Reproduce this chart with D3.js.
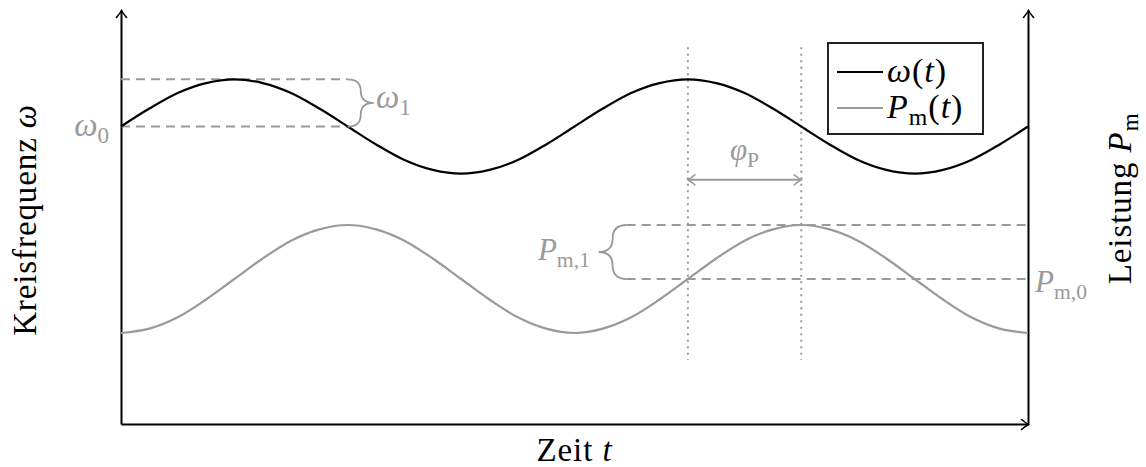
<!DOCTYPE html>
<html>
<head>
<meta charset="utf-8">
<script src="https://cdn.jsdelivr.net/npm/d3@7"></script>
<style>
  html, body { margin: 0; padding: 0; background: #fff; }
  svg { display: block; font-family: "Liberation Serif", "DejaVu Serif", serif; }
</style>
</head>
<body>
<div id="chart"></div>
<script>
const width = 1146, height = 467;

// time in periods (sixteenth-period samples)
const timeVals  = [0, 0.0625, 0.125, 0.1875, 0.25, 0.3125, 0.375, 0.4375, 0.5, 0.5625, 0.625, 0.6875, 0.75, 0.8125, 0.875, 0.9375,
                   1, 1.0625, 1.125, 1.1875, 1.25, 1.3125, 1.375, 1.4375, 1.5, 1.5625, 1.625, 1.6875, 1.75, 1.8125, 1.875, 1.9375, 2];
// omega(t): omega0 = 1.0, omega1 = 0.1
const omegaVals = [1.000, 1.038, 1.071, 1.092, 1.100, 1.092, 1.071, 1.038, 1.000, 0.962, 0.929, 0.908, 0.900, 0.908, 0.929, 0.962,
                   1.000, 1.038, 1.071, 1.092, 1.100, 1.092, 1.071, 1.038, 1.000, 0.962, 0.929, 0.908, 0.900, 0.908, 0.929, 0.962, 1.000];
// Pm(t): Pm0 = 0.5, Pm1 = 0.1, lags omega by a quarter period
const powerVals = [0.400, 0.408, 0.429, 0.462, 0.500, 0.538, 0.571, 0.592, 0.600, 0.592, 0.571, 0.538, 0.500, 0.462, 0.429, 0.408,
                   0.400, 0.408, 0.429, 0.462, 0.500, 0.538, 0.571, 0.592, 0.600, 0.592, 0.571, 0.538, 0.500, 0.462, 0.429, 0.408, 0.400];

const omega0 = 1.0, omega1 = 0.1;
const pm0 = 0.5, pm1 = 0.1;
const phaseMarks = [1.25, 1.5];   // omega peak and Pm peak

const gray = "#9a9a9a";

const svg = d3.select("#chart")
    .append("svg")
    .attr("width", width)
    .attr("height", height);

const x = d3.scaleLinear().domain([0, 2]).range([121, 1028]);
const yOmega = d3.scaleLinear().domain([omega0, omega0 + omega1]).range([126.5, 79.3]);
const yPower = d3.scaleLinear().domain([pm0, pm0 + pm1]).range([279, 225]);
const axisY = d3.scaleLinear().domain([0, 1]).range([424, 10]);

// arrow heads (tikz "->" style)
const defs = svg.append("defs");
function arrowMarker(id, color) {
    defs.append("marker")
        .attr("id", id)
        .attr("viewBox", "-10 -7 12 14")
        .attr("markerUnits", "userSpaceOnUse")
        .attr("markerWidth", 12)
        .attr("markerHeight", 14)
        .attr("refX", 0)
        .attr("refY", 0)
        .attr("orient", "auto-start-reverse")
        .append("path")
        .attr("d", "M-7,-5 Q-2,-1 0,0 Q-2,1 -7,5")
        .attr("fill", "none")
        .attr("stroke", color)
        .attr("stroke-width", 1.6)
        .attr("stroke-linecap", "round");
}
arrowMarker("arrowBlack", "#000");
arrowMarker("arrowGray", gray);

// axes (no ticks, only the domain line with an arrow)
svg.append("g")
    .attr("transform", `translate(${x(0)},0)`)
    .call(d3.axisLeft(axisY).tickValues([]).tickSizeOuter(0));
svg.append("g")
    .attr("transform", `translate(${x(2)},0)`)
    .call(d3.axisRight(axisY).tickValues([]).tickSizeOuter(0));
svg.append("g")
    .attr("transform", `translate(0,${axisY(0)})`)
    .call(d3.axisBottom(x).tickValues([]).tickSizeOuter(0));
svg.selectAll(".domain")
    .attr("stroke", "#000")
    .attr("stroke-width", 2)
    .attr("marker-end", "url(#arrowBlack)");

// helper lines
const dashed = (x1, x2, y) => svg.append("line")
    .attr("x1", x1).attr("x2", x2).attr("y1", y).attr("y2", y)
    .attr("stroke", gray).attr("stroke-width", 2)
    .attr("stroke-dasharray", "9,6");

dashed(x(0), x(0.5), yOmega(omega0));
dashed(x(0), x(0.5), yOmega(omega0 + omega1));
dashed(x(1.115), x(2), yPower(pm0));
dashed(x(1.115), x(2), yPower(pm0 + pm1));

svg.selectAll(".phase-line")
    .data(phaseMarks)
    .enter()
    .append("line")
    .attr("class", "phase-line")
    .attr("x1", d => x(d)).attr("x2", d => x(d))
    .attr("y1", yOmega(1.168)).attr("y2", yPower(0.35))
    .attr("stroke", gray).attr("stroke-width", 2)
    .attr("stroke-dasharray", "2,4.5");

// curves
const omegaLine = d3.line()
    .x((d, i) => x(timeVals[i]))
    .y(d => yOmega(d))
    .curve(d3.curveMonotoneX);
const powerLine = d3.line()
    .x((d, i) => x(timeVals[i]))
    .y(d => yPower(d))
    .curve(d3.curveMonotoneX);

svg.append("path")
    .attr("d", powerLine(powerVals))
    .attr("fill", "none")
    .attr("stroke", gray)
    .attr("stroke-width", 2.2);
svg.append("path")
    .attr("d", omegaLine(omegaVals))
    .attr("fill", "none")
    .attr("stroke", "#000")
    .attr("stroke-width", 2.2);

// braces
function brace(x0, y1, y2, a) {
    const ym = (y1 + y2) / 2;
    const r = Math.min(Math.abs(a) / 2, (ym - y1) / 2);
    const xm = x0 + a / 2;
    return `M${x0},${y1} Q${xm},${y1} ${xm},${y1 + r} L${xm},${ym - r} Q${xm},${ym} ${x0 + a},${ym}` +
           ` Q${xm},${ym} ${xm},${ym + r} L${xm},${y2 - r} Q${xm},${y2} ${x0},${y2}`;
}
svg.append("path")
    .attr("d", brace(x(0.5), yOmega(omega0 + omega1), yOmega(omega0), 26))
    .attr("fill", "none").attr("stroke", gray).attr("stroke-width", 1.8);
svg.append("path")
    .attr("d", brace(x(1.115), yPower(pm0 + pm1), yPower(pm0), -28))
    .attr("fill", "none").attr("stroke", gray).attr("stroke-width", 1.8);

// phase arrow
const phiY = yOmega(0.887);
svg.append("line")
    .attr("x1", x(phaseMarks[0])).attr("x2", x(phaseMarks[1]))
    .attr("y1", phiY).attr("y2", phiY)
    .attr("stroke", gray).attr("stroke-width", 2)
    .attr("marker-start", "url(#arrowGray)")
    .attr("marker-end", "url(#arrowGray)");

// math-ish label helper: parts = [[text, italic, sub]]
function mathText(sel, parts, size) {
    parts.forEach(([t, it, sub], i) => {
        const prevSub = i > 0 && parts[i - 1][2];
        const ts = sel.append("tspan")
            .text(t)
            .attr("font-style", it ? "italic" : "normal")
            .attr("font-size", sub ? size * 0.7 : size);
        if (sub && !prevSub) ts.attr("dy", size * 0.22);
        if (!sub && prevSub) ts.attr("dy", -size * 0.22);
    });
    return sel;
}

const g = svg.append("g").attr("fill", gray);
mathText(g.append("text").attr("x", 109).attr("y", yOmega(omega0) + 9).attr("text-anchor", "end"),
    [["ω", true, false], ["0", false, true]], 33);
mathText(g.append("text").attr("x", 376).attr("y", yOmega(omega0 + omega1 / 2) + 5),
    [["ω", true, false], ["1", false, true]], 33);
mathText(g.append("text").attr("x", 590).attr("y", yPower(pm0 + pm1 / 2) + 8).attr("text-anchor", "end"),
    [["P", true, false], ["m,1", false, true]], 31);
mathText(g.append("text").attr("x", 1035).attr("y", yPower(pm0) + 13),
    [["P", true, false], ["m,0", false, true]], 31);
mathText(g.append("text").attr("x", (x(phaseMarks[0]) + x(phaseMarks[1])) / 2).attr("y", phiY - 20).attr("text-anchor", "middle"),
    [["φ", true, false], ["P", false, true]], 31);

// axis titles
const titleStyle = sel => sel.attr("letter-spacing", "0.9px");
mathText(svg.append("text").attr("x", x(1)).attr("y", 461).attr("text-anchor", "middle").call(titleStyle),
    [["Zeit ", false, false], ["t", true, false]], 33);
mathText(svg.append("text").attr("transform", `translate(36,${axisY(0.493)}) rotate(-90)`).attr("text-anchor", "middle").call(titleStyle),
    [["Kreisfrequenz ", false, false], ["ω", true, false]], 33);
mathText(svg.append("text").attr("transform", `translate(1131,${axisY(0.545)}) rotate(-90)`).attr("text-anchor", "middle").call(titleStyle),
    [["Leistung ", false, false], ["P", true, false], ["m", false, true]], 33);

// legend
const legend = svg.append("g").attr("transform", "translate(828,43)");
legend.append("rect")
    .attr("width", 155).attr("height", 91)
    .attr("fill", "#fff").attr("stroke", "#222").attr("stroke-width", 2);
const legendItems = [
    { color: "#000", parts: [["ω", true, false], ["(", false, false], ["t", true, false], [")", false, false]] },
    { color: gray, parts: [["P", true, false], ["m", false, true], ["(", false, false], ["t", true, false], [")", false, false]] }
];
legendItems.forEach((d, i) => {
    const cy = 29 + i * 36;
    legend.append("line")
        .attr("x1", 9).attr("x2", 55).attr("y1", cy).attr("y2", cy)
        .attr("stroke", d.color).attr("stroke-width", 2.2);
    mathText(legend.append("text").attr("x", 59).attr("y", cy + 10).attr("letter-spacing", "1px"), d.parts, 34);
});
</script>
</body>
</html>
